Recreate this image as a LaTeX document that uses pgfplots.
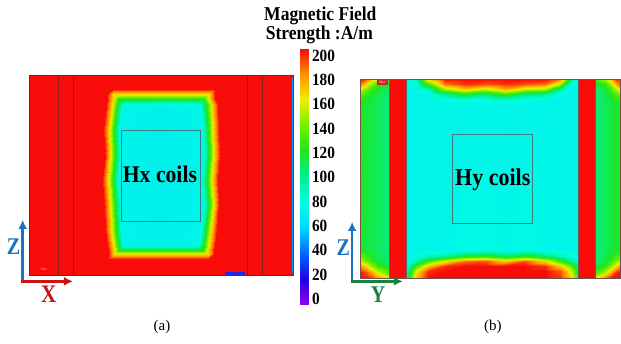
\documentclass[border=0pt]{standalone}
\usepackage{fontspec}
\setmainfont{Liberation Serif}
\usepackage{graphicx}
\usepackage{pgfplots}
\usepackage{pgfplotstable}
\pgfplotsset{compat=1.18}
\usetikzlibrary{arrows.meta}
\definecolor{fred}{RGB}{248,12,10}
\definecolor{dred}{RGB}{150,25,25}
\definecolor{zblue}{RGB}{25,115,200}
\definecolor{xred}{RGB}{200,20,20}
\definecolor{ygreen}{RGB}{25,130,65}
\definecolor{coil}{RGB}{60,125,125}
\pgfplotsset{colormap={field}{rgb255=(150,0,230) rgb255=(30,0,230) rgb255=(0,100,255) rgb255=(0,215,255) rgb255=(0,255,225) rgb255=(0,240,150) rgb255=(30,230,30) rgb255=(110,240,0) rgb255=(235,240,0) rgb255=(255,150,0) rgb255=(248,12,10)}}
\newcommand{\tl}[2]{\node[font=\fontsize{15.3}{16}\selectfont\bfseries,anchor=west,inner sep=0pt] at (axis cs:312,#2) {\scalebox{1}[1.12]{#1}};}
\begin{document}
\pgfplotstableread[row sep=\\]{
x y v\\
29 75 200\\ 107 75 200\\ 113 75 200\\ 118 75 200\\ 124 75 200\\ 160 75 200\\ 196 75 200\\ 203 75 200\\ 209 75 200\\ 215 75 200\\ 293 75 200\\
29 89 200\\ 107 89 200\\ 113 89 200\\ 118 89 200\\ 124 89 200\\ 160 89 200\\ 196 89 200\\ 203 89 200\\ 209 89 200\\ 215 89 200\\ 293 89 200\\
29 94 200\\ 107 94 200\\ 113 94 165\\ 118 94 165\\ 124 94 165\\ 160 94 165\\ 196 94 165\\ 203 94 165\\ 209 94 165\\ 215 94 200\\ 293 94 200\\
29 99 200\\ 107 99 200\\ 113 99 165\\ 118 99 120\\ 124 99 120\\ 160 99 120\\ 196 99 120\\ 203 99 120\\ 209 99 165\\ 215 99 200\\ 293 99 200\\
29 105 200\\ 106 105 200\\ 112 105 165\\ 117 105 120\\ 123 105 75\\ 160 105 73\\ 199 105 75\\ 206 105 120\\ 212 105 165\\ 218 105 200\\ 293 105 200\\
29 130 200\\ 103 130 200\\ 109 130 165\\ 114 130 120\\ 120 130 75\\ 160 130 72\\ 202 130 75\\ 208 130 120\\ 213 130 165\\ 219 130 200\\ 293 130 200\\
29 155 200\\ 105 155 200\\ 110 155 165\\ 115 155 120\\ 121 155 75\\ 160 155 72\\ 203 155 75\\ 209 155 120\\ 214 155 165\\ 220 155 200\\ 293 155 200\\
29 180 200\\ 102 180 200\\ 108 180 165\\ 113 180 120\\ 119 180 75\\ 160 180 72\\ 201 180 75\\ 207 180 120\\ 212 180 165\\ 218 180 200\\ 293 180 200\\
29 205 200\\ 104 205 200\\ 110 205 165\\ 115 205 120\\ 121 205 75\\ 160 205 72\\ 203 205 75\\ 209 205 120\\ 214 205 165\\ 219 205 200\\ 293 205 200\\
29 230 200\\ 105 230 200\\ 111 230 165\\ 116 230 120\\ 122 230 75\\ 160 230 72\\ 200 230 75\\ 206 230 120\\ 211 230 165\\ 217 230 200\\ 293 230 200\\
29 245 200\\ 107 245 200\\ 113 245 165\\ 118 245 120\\ 124 245 75\\ 160 245 73\\ 198 245 75\\ 204 245 120\\ 209 245 165\\ 215 245 200\\ 293 245 200\\
29 250 200\\ 108 250 200\\ 114 250 165\\ 119 250 120\\ 125 250 120\\ 160 250 120\\ 197 250 120\\ 203 250 120\\ 208 250 165\\ 214 250 200\\ 293 250 200\\
29 254 200\\ 108 254 200\\ 114 254 165\\ 119 254 165\\ 125 254 165\\ 160 254 165\\ 197 254 165\\ 203 254 165\\ 208 254 165\\ 214 254 200\\ 293 254 200\\
29 259 200\\ 108 259 200\\ 114 259 200\\ 119 259 200\\ 125 259 200\\ 160 259 200\\ 197 259 200\\ 203 259 200\\ 208 259 200\\ 214 259 200\\ 293 259 200\\
29 275 200\\ 108 275 200\\ 114 275 200\\ 119 275 200\\ 125 275 200\\ 160 275 200\\ 197 275 200\\ 203 275 200\\ 208 275 200\\ 214 275 200\\ 293 275 200\\
}\leftfield
\pgfplotstableread[row sep=\\]{
x y v\\
406 79 75\\ 416 79 90\\ 428 79 170\\ 445 79 200\\ 465 79 200\\ 485 79 200\\ 505 79 200\\ 525 79 200\\ 545 79 200\\ 560 79 185\\ 570 79 110\\ 579 79 75\\
406 84 75\\ 416 84 78\\ 428 84 130\\ 445 84 185\\ 465 84 195\\ 485 84 190\\ 505 84 195\\ 525 84 190\\ 545 84 185\\ 560 84 150\\ 570 84 85\\ 579 84 75\\
406 89 75\\ 416 89 75\\ 428 89 90\\ 445 89 150\\ 465 89 170\\ 485 89 155\\ 505 89 175\\ 525 89 155\\ 545 89 150\\ 560 89 100\\ 570 89 75\\ 579 89 75\\
406 94 75\\ 416 94 75\\ 428 94 75\\ 445 94 100\\ 465 94 120\\ 485 94 105\\ 505 94 130\\ 525 94 105\\ 545 94 100\\ 560 94 78\\ 570 94 75\\ 579 94 75\\
406 99 75\\ 416 99 75\\ 428 99 75\\ 445 99 78\\ 465 99 85\\ 485 99 80\\ 505 99 90\\ 525 99 80\\ 545 99 78\\ 560 99 75\\ 570 99 75\\ 579 99 75\\
406 104 75\\ 416 104 75\\ 428 104 75\\ 445 104 75\\ 465 104 75\\ 485 104 75\\ 505 104 75\\ 525 104 75\\ 545 104 75\\ 560 104 75\\ 570 104 75\\ 579 104 75\\
406 250 75\\ 416 250 75\\ 428 250 75\\ 445 250 75\\ 465 250 78\\ 485 250 78\\ 505 250 76\\ 525 250 78\\ 545 250 76\\ 560 250 75\\ 570 250 75\\ 579 250 75\\
406 256 75\\ 416 256 78\\ 428 256 90\\ 445 256 100\\ 465 256 120\\ 485 256 125\\ 505 256 110\\ 525 256 125\\ 545 256 105\\ 560 256 90\\ 570 256 80\\ 579 256 75\\
406 261 75\\ 416 261 95\\ 428 261 130\\ 445 261 160\\ 465 261 185\\ 485 261 190\\ 505 261 170\\ 525 261 190\\ 545 261 165\\ 560 261 130\\ 570 261 100\\ 579 261 80\\
406 266 80\\ 416 266 130\\ 428 266 170\\ 445 266 195\\ 465 266 200\\ 485 266 200\\ 505 266 200\\ 525 266 200\\ 545 266 195\\ 560 266 170\\ 570 266 140\\ 579 266 95\\
406 271 90\\ 416 271 160\\ 428 271 195\\ 445 271 200\\ 465 271 200\\ 485 271 200\\ 505 271 200\\ 525 271 200\\ 545 271 200\\ 560 271 190\\ 570 271 160\\ 579 271 110\\
406 278 100\\ 416 278 170\\ 428 278 200\\ 445 278 200\\ 465 278 200\\ 485 278 200\\ 505 278 200\\ 525 278 200\\ 545 278 200\\ 560 278 195\\ 570 278 170\\ 579 278 120\\
}\midfield
\pgfplotstableread[row sep=\\]{
x y v\\
360 79 200\\ 366 79 190\\ 372 79 170\\ 378 79 150\\ 389 79 130\\
360 84 185\\ 366 84 165\\ 372 84 145\\ 378 84 125\\ 389 84 115\\
360 89 160\\ 366 89 140\\ 372 89 125\\ 378 89 118\\ 389 89 108\\
360 95 135\\ 366 95 125\\ 372 95 118\\ 378 95 112\\ 389 95 105\\
360 102 120\\ 366 102 116\\ 372 102 113\\ 378 102 110\\ 389 102 105\\
360 250 118\\ 366 250 115\\ 372 250 112\\ 378 250 110\\ 389 250 105\\
360 260 150\\ 366 260 135\\ 372 260 120\\ 378 260 112\\ 389 260 106\\
360 266 180\\ 366 266 165\\ 372 266 145\\ 378 266 125\\ 389 266 112\\
360 272 200\\ 366 272 190\\ 372 272 175\\ 378 272 155\\ 389 272 130\\
360 278 200\\ 366 278 200\\ 372 278 195\\ 378 278 180\\ 389 278 160\\
}\lstrip
\pgfplotstableread[row sep=\\]{
x y v\\
596 79 130\\ 605 79 150\\ 611 79 175\\ 616 79 195\\ 621 79 200\\
596 84 112\\ 605 84 125\\ 611 84 150\\ 616 84 175\\ 621 84 195\\
596 89 106\\ 605 89 115\\ 611 89 130\\ 616 89 150\\ 621 89 170\\
596 95 105\\ 605 95 112\\ 611 95 120\\ 616 95 130\\ 621 95 140\\
596 102 105\\ 605 102 110\\ 611 102 114\\ 616 102 118\\ 621 102 122\\
596 250 105\\ 605 250 110\\ 611 250 114\\ 616 250 118\\ 621 250 120\\
596 260 106\\ 605 260 115\\ 611 260 125\\ 616 260 140\\ 621 260 150\\
596 266 112\\ 605 266 125\\ 611 266 145\\ 616 266 165\\ 621 266 180\\
596 272 130\\ 605 272 150\\ 611 272 175\\ 616 272 195\\ 621 272 200\\
596 278 160\\ 605 278 185\\ 611 278 200\\ 616 278 200\\ 621 278 200\\
}\rstrip
\pgfplotstableread[row sep=\\]{
x y v\\
300 305 0\\ 309 305 0\\
300 279.4 20\\ 309 279.4 20\\
300 253.8 40\\ 309 253.8 40\\
300 228.2 60\\ 309 228.2 60\\
300 202.6 80\\ 309 202.6 80\\
300 177 100\\ 309 177 100\\
300 151.4 120\\ 309 151.4 120\\
300 125.8 140\\ 309 125.8 140\\
300 100.2 160\\ 309 100.2 160\\
300 74.6 180\\ 309 74.6 180\\
300 49 200\\ 309 49 200\\
}\cbar
\begin{tikzpicture}
\begin{axis}[width=621pt,height=344pt,scale only axis,
  xmin=0,xmax=621,ymin=0,ymax=344,y dir=reverse,hide axis,clip=false,
  colormap name=field,point meta min=0,point meta max=200]
\addplot[draw=none,forget plot] coordinates {(0,0) (621,344)};
% left panel (a)
\addplot[surf,shader=interp,mesh/cols=11,point meta=\thisrow{v}] table[x=x,y=y] {\leftfield};
\addplot[draw=dred,line width=0.7pt] coordinates {(29,75) (293,75) (293,275) (29,275) (29,75)};
\addplot[draw=dred,line width=0.6pt] coordinates {(58,75) (58,275)};
\addplot[draw=dred,line width=0.6pt] coordinates {(73,75) (73,275)};
\addplot[draw=dred,line width=0.6pt] coordinates {(247,75) (247,275)};
\addplot[draw=dred,line width=0.6pt] coordinates {(262,75) (262,275)};
\addplot[draw={rgb,255:red,0;green,150;blue,255},line width=0.6pt] coordinates {(292.4,78) (292.4,273)};
\addplot[draw=coil,line width=0.7pt] coordinates {(121,130) (200,130) (200,221) (121,221) (121,130)};
\addplot[fill={rgb,255:red,30;green,40;blue,230},draw=none] coordinates {(225,272) (245,272) (245,275) (225,275)} -- cycle;
% right panel (b)
\addplot[surf,shader=interp,mesh/cols=12,point meta=\thisrow{v}] table[x=x,y=y] {\midfield};
\addplot[surf,shader=interp,mesh/cols=5,point meta=\thisrow{v}] table[x=x,y=y] {\lstrip};
\addplot[surf,shader=interp,mesh/cols=5,point meta=\thisrow{v}] table[x=x,y=y] {\rstrip};
\addplot[fill=fred,draw=none] coordinates {(389,79) (406,79) (406,278) (389,278)} -- cycle;
\addplot[fill=fred,draw=none] coordinates {(579,79) (596,79) (596,278) (579,278)} -- cycle;
\addplot[draw={rgb,255:red,110;green,90;blue,90},line width=0.5pt] coordinates {(389,79) (389,278)};
\addplot[draw={rgb,255:red,110;green,90;blue,90},line width=0.5pt] coordinates {(406,79) (406,278)};
\addplot[draw={rgb,255:red,110;green,90;blue,90},line width=0.5pt] coordinates {(579,79) (579,278)};
\addplot[draw={rgb,255:red,110;green,90;blue,90},line width=0.5pt] coordinates {(596,79) (596,278)};
\addplot[draw={rgb,255:red,120;green,80;blue,80},line width=0.6pt] coordinates {(360,79) (621,79) (621,278) (360,278) (360,79)};
\addplot[draw=coil,line width=0.7pt] coordinates {(453,134) (533,134) (533,223) (453,223) (453,134)};
\addplot[fill={rgb,255:red,215;green,30;blue,40},draw=none] coordinates {(377,80) (388,80) (388,85) (377,85)} -- cycle;
% colorbar
\addplot[surf,shader=interp,mesh/cols=2,point meta=\thisrow{v}] table[x=x,y=y] {\cbar};
\end{axis}
% texts and axis triads (positions in axis units = px)
\begin{axis}[width=621pt,height=344pt,scale only axis,
  xmin=0,xmax=621,ymin=0,ymax=344,y dir=reverse,hide axis,clip=false]
\addplot[draw=none,forget plot] coordinates {(0,0) (621,344)};
\node[font=\fontsize{21.7}{22}\selectfont\bfseries,anchor=base,inner sep=0pt] at (axis cs:160,182.5) {\scalebox{1}[1.1]{Hx coils}};
\node[font=\fontsize{22}{22}\selectfont\bfseries,anchor=base,inner sep=0pt] at (axis cs:493,186) {\scalebox{1}[1.1]{Hy coils}};
\node[font=\fontsize{17.5}{18}\selectfont\bfseries,anchor=base,inner sep=0pt] at (axis cs:320.5,20.7) {\scalebox{1}[1.12]{Magnetic Field}};
\node[font=\fontsize{17.5}{18}\selectfont\bfseries,anchor=base,inner sep=0pt] at (axis cs:319.5,40) {\scalebox{1}[1.12]{Strength :A/m}};
\tl{200}{55.5}
\tl{180}{79.85}
\tl{160}{104.2}
\tl{140}{128.55}
\tl{120}{152.9}
\tl{100}{177.25}
\tl{80}{201.6}
\tl{60}{225.95}
\tl{40}{250.3}
\tl{20}{274.65}
\tl{0}{299}
\node[font=\fontsize{15}{16}\selectfont,inner sep=0pt] at (axis cs:162,327) {(a)};
\node[font=\fontsize{15}{16}\selectfont,inner sep=0pt] at (axis cs:493,327) {(b)};
\node[font=\fontsize{3.5}{4}\selectfont,text={rgb,255:red,255;green,190;blue,190},inner sep=0pt] at (axis cs:44,270) {Max};
\node[font=\fontsize{3.5}{4}\selectfont,text=white,inner sep=0pt] at (axis cs:382.5,82.5) {Max};
% left triad
\draw[zblue,line width=2.6pt,-{Latex[length=9pt,width=9pt]}] (axis cs:22.7,283) -- (axis cs:22.7,220);
\draw[xred,line width=2.6pt,-{Latex[length=9pt,width=9pt]}] (axis cs:21.4,281.5) -- (axis cs:73,281.5);
\node[font=\fontsize{20}{20}\selectfont\bfseries,text=zblue,inner sep=0pt] at (axis cs:13.5,247) {\scalebox{1}[1.2]{Z}};
\node[font=\fontsize{21}{20}\selectfont\bfseries,text=xred,inner sep=0pt] at (axis cs:48.7,294) {\scalebox{1}[1.2]{X}};
% right triad
\draw[zblue,line width=2.6pt,-{Latex[length=9pt,width=9pt]}] (axis cs:352.3,283) -- (axis cs:352.3,222);
\draw[ygreen,line width=2.6pt,-{Latex[length=9pt,width=9pt]}] (axis cs:351,281.5) -- (axis cs:403,281.5);
\node[font=\fontsize{20}{20}\selectfont\bfseries,text=zblue,inner sep=0pt] at (axis cs:343.5,247.5) {\scalebox{1}[1.2]{Z}};
\node[font=\fontsize{20}{20}\selectfont\bfseries,text=ygreen,inner sep=0pt] at (axis cs:378.3,295) {\scalebox{1}[1.2]{Y}};
\end{axis}
\end{tikzpicture}
\end{document}
